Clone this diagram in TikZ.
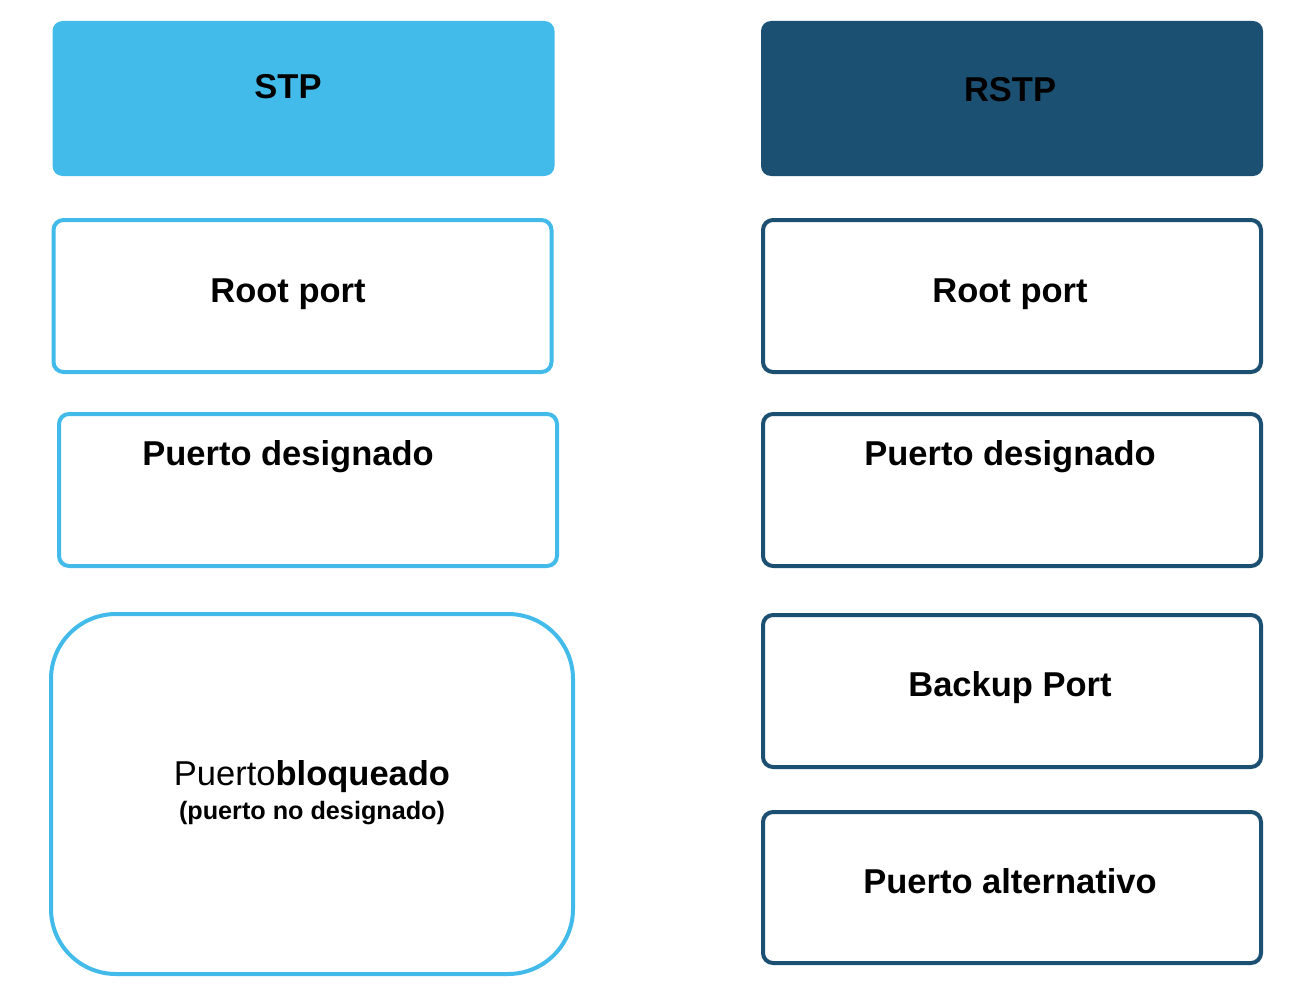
\documentclass[tikz,border=0pt]{standalone}
\usepackage{fontspec}
\setmainfont{Liberation Sans}
\definecolor{stpblue}{HTML}{43BBEA}
\definecolor{rstpblue}{HTML}{1B5072}
\begin{document}
\begin{tikzpicture}[x=1pt,y=-1pt,
  header/.style={rectangle,rounded corners=10pt,inner sep=0pt,minimum width=502pt,minimum height=155pt},
  portbox/.style={rectangle,rounded corners=10pt,draw,line width=4pt,fill=white,inner sep=0pt,minimum width=498pt,minimum height=152pt},
  lbl/.style={font=\fontsize{34.5}{40}\selectfont\bfseries,inner sep=0pt,anchor=base},
  sublbl/.style={font=\fontsize{25.2}{30}\selectfont\bfseries,inner sep=0pt,anchor=base}]
\useasboundingbox[fill=white] (0,0) rectangle (1299,990);
% headers
\node[header,fill=stpblue] (stp) at (303.5,98.5) {};
\node[header,fill=rstpblue] (rstp) at (1012,98.5) {};
\node[lbl] (stpt) at (288,99) {STP};
\node[lbl] (rstpt) at (1010,102) {RSTP};
% left column
\node[portbox,draw=stpblue] (rootl) at (302.5,296) {};
\node[lbl] (rootlt) at (288,302) {Root port};
\node[portbox,draw=stpblue] (desl) at (308,490) {};
\node[lbl] (deslt) at (288,465) {Puerto designado};
\node[portbox,draw=stpblue,rounded corners=65pt,minimum width=522pt,minimum height=360pt] (bloq) at (312,794) {};
\node[lbl] (bloqt) at (312,785) {\mdseries Puerto\bfseries bloqueado};
\node[sublbl] (bloqs) at (312,819) {(puerto no designado)};
% right column
\node[portbox,draw=rstpblue] (rootr) at (1012,296) {};
\node[lbl] (rootrt) at (1010,302) {Root port};
\node[portbox,draw=rstpblue] (desr) at (1012,490) {};
\node[lbl] (desrt) at (1010,465) {Puerto designado};
\node[portbox,draw=rstpblue] (backup) at (1012,691) {};
\node[lbl] (backupt) at (1010,696) {Backup Port};
\node[portbox,draw=rstpblue,minimum height=151pt] (alt) at (1012,887.5) {};
\node[lbl] (altt) at (1010,893) {Puerto alternativo};
\end{tikzpicture}
\end{document}
